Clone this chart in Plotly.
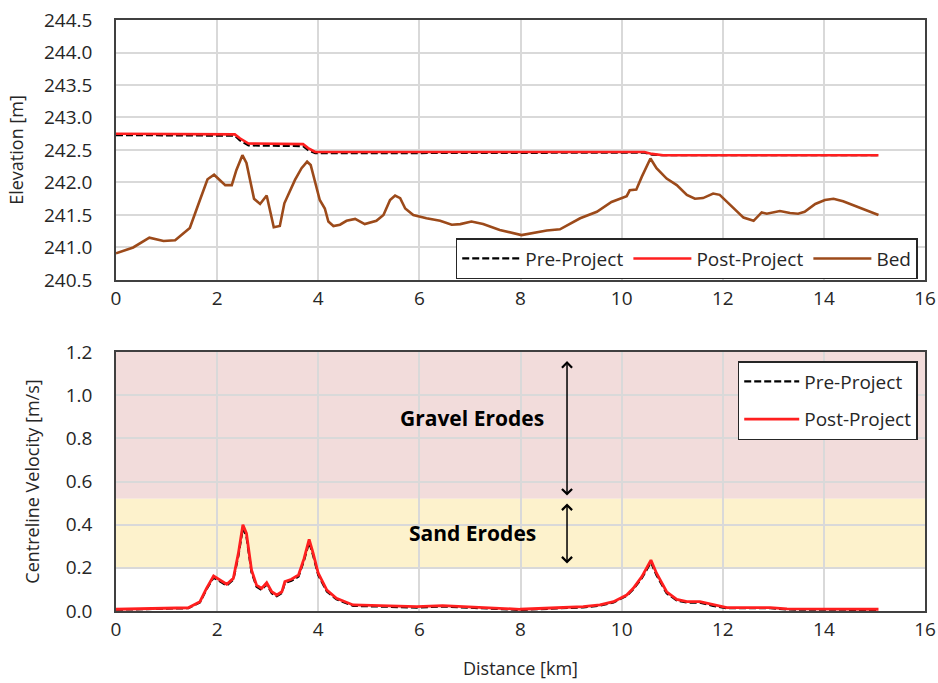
import plotly.graph_objects as go

# ---------------- data ----------------
bed_km = [0, 0.34, 0.66, 0.94, 1.17, 1.46, 1.66, 1.81, 1.94, 2.16,
          2.29, 2.38, 2.50, 2.58, 2.73, 2.85, 2.98, 3.12, 3.24, 3.33,
          3.54, 3.67, 3.78, 3.85, 4.03, 4.13, 4.20, 4.30, 4.43, 4.56,
          4.73, 4.92, 5.15, 5.29, 5.42, 5.52, 5.62, 5.72, 5.88, 6.14,
          6.41, 6.64, 6.81, 7.03, 7.26, 7.59, 8.02, 8.25, 8.52, 8.78,
          9.18, 9.51, 9.80, 10.10, 10.16, 10.29, 10.40, 10.57, 10.69, 10.89,
          11.09, 11.29, 11.45, 11.61, 11.81, 11.94, 12.21, 12.41, 12.61, 12.77,
          12.87, 13.13, 13.33, 13.49, 13.62, 13.83, 14.02, 14.19, 14.38, 14.65,
          14.85, 15.08]
bed_elev = [240.91, 241.00, 241.15, 241.10, 241.11, 241.30, 241.73, 242.05, 242.12, 241.96,
            241.96, 242.19, 242.42, 242.30, 241.75, 241.67, 241.80, 241.31, 241.33, 241.68,
            242.04, 242.22, 242.32, 242.27, 241.73, 241.60, 241.40, 241.33, 241.35, 241.41,
            241.44, 241.36, 241.41, 241.50, 241.73, 241.80, 241.76, 241.60, 241.50, 241.45,
            241.41, 241.35, 241.36, 241.40, 241.36, 241.27, 241.19, 241.22, 241.26, 241.28,
            241.45, 241.55, 241.70, 241.79, 241.88, 241.89, 242.09, 242.37, 242.22, 242.06,
            241.96, 241.81, 241.75, 241.76, 241.83, 241.81, 241.60, 241.46, 241.41, 241.54,
            241.52, 241.56, 241.53, 241.52, 241.55, 241.67, 241.73, 241.75, 241.71, 241.63,
            241.56, 241.50]

ws_km = [0, 2.35, 2.45, 2.62, 3.70, 3.80, 3.94, 10.45, 10.60, 10.82, 15.08]
ws_post = [242.75, 242.74, 242.68, 242.60, 242.59, 242.53, 242.47, 242.47, 242.44, 242.42, 242.42]
ws_pre = [242.73, 242.72, 242.65, 242.57, 242.56, 242.50, 242.45, 242.46, 242.43, 242.42, 242.42]

vel_km = [0, 0.74, 1.43, 1.66, 1.79, 1.93, 2.06, 2.19, 2.32, 2.42,
          2.51, 2.58, 2.68, 2.78, 2.88, 2.98, 3.08, 3.18, 3.28, 3.34,
          3.47, 3.61, 3.72, 3.82, 3.90, 4.00, 4.17, 4.36, 4.69, 5.29,
          5.95, 6.46, 6.92, 7.46, 7.99, 8.72, 9.24, 9.57, 9.84, 10.10,
          10.23, 10.40, 10.58, 10.69, 10.89, 11.09, 11.29, 11.55, 11.81, 12.08,
          12.61, 12.94, 13.27, 14.19, 15.08]
vel_post = [0.008, 0.012, 0.015, 0.043, 0.105, 0.162, 0.144, 0.124, 0.151, 0.267,
            0.400, 0.360, 0.190, 0.120, 0.105, 0.131, 0.089, 0.074, 0.089, 0.136,
            0.147, 0.167, 0.244, 0.332, 0.267, 0.175, 0.097, 0.059, 0.028, 0.023,
            0.020, 0.025, 0.020, 0.0125, 0.008, 0.015, 0.020, 0.028, 0.043, 0.074,
            0.105, 0.159, 0.236, 0.175, 0.089, 0.054, 0.043, 0.043, 0.028, 0.016,
            0.016, 0.016, 0.010, 0.008, 0.008]
vel_pre = [0.006, 0.010, 0.013, 0.040, 0.100, 0.155, 0.138, 0.118, 0.145, 0.255,
           0.385, 0.345, 0.180, 0.112, 0.098, 0.124, 0.082, 0.068, 0.083, 0.130,
           0.140, 0.160, 0.235, 0.320, 0.256, 0.166, 0.090, 0.054, 0.024, 0.019,
           0.016, 0.021, 0.016, 0.009, 0.005, 0.012, 0.017, 0.025, 0.040, 0.070,
           0.100, 0.152, 0.226, 0.166, 0.082, 0.049, 0.039, 0.039, 0.024, 0.013,
           0.013, 0.013, 0.007, 0.005, 0.005]

sand_band = [0.2, 0.52]
gravel_band = [0.52, 1.2]

FONT = "Open Sans"
TXT = "#262626"
RED = "#FF1F1F"
BROWN = "#9C4A1A"
DASH = "7px,3px"

fig = go.Figure()

# top panel
fig.add_trace(go.Scatter(x=ws_km, y=ws_pre, name="Pre-Project", mode="lines",
                         line=dict(color="black", width=2.2, dash=DASH),
                         xaxis="x", yaxis="y", legend="legend"))
fig.add_trace(go.Scatter(x=ws_km, y=ws_post, name="Post-Project", mode="lines",
                         line=dict(color=RED, width=2.6),
                         xaxis="x", yaxis="y", legend="legend"))
fig.add_trace(go.Scatter(x=bed_km, y=bed_elev, name="Bed", mode="lines",
                         line=dict(color=BROWN, width=2.6),
                         xaxis="x", yaxis="y", legend="legend"))

# bottom panel
fig.add_trace(go.Scatter(x=vel_km, y=vel_pre, name="Pre-Project", mode="lines",
                         line=dict(color="black", width=2.2, dash=DASH),
                         xaxis="x2", yaxis="y2", legend="legend2", legendgroup="a"))
fig.add_trace(go.Scatter(x=vel_km, y=vel_post, name="Post-Project", mode="lines",
                         line=dict(color=RED, width=2.8),
                         xaxis="x2", yaxis="y2", legend="legend2", legendgroup="b"))

# bands
fig.add_shape(type="rect", xref="x2", yref="y2", x0=0, x1=16,
              y0=gravel_band[0], y1=gravel_band[1],
              fillcolor="#F2DCDB", line_width=0, layer="below")
fig.add_shape(type="rect", xref="x2", yref="y2", x0=0, x1=16,
              y0=sand_band[0], y1=sand_band[1],
              fillcolor="#FDF2CC", line_width=0, layer="below")

# arrows
arrow_x = 8.92
for (ya, yb) in [(1.165, 0.535), (0.505, 0.22)]:
    fig.add_annotation(x=arrow_x, y=yb, ax=arrow_x, ay=ya, xref="x2", yref="y2",
                       axref="x2", ayref="y2", text="", showarrow=True,
                       arrowhead=4, startarrowhead=4, arrowside="end+start",
                       arrowsize=1.3, startarrowsize=1.3, arrowwidth=1.5,
                       arrowcolor="black")

fig.add_annotation(x=7.05, y=0.895, xref="x2", yref="y2", text="<b>Gravel Erodes</b>",
                   showarrow=False, font=dict(family=FONT, size=21, color="black"))
fig.add_annotation(x=7.05, y=0.36, xref="x2", yref="y2", text="<b>Sand Erodes</b>",
                   showarrow=False, font=dict(family=FONT, size=21, color="black"))

axis_common = dict(showgrid=True, gridcolor="#D9D9D9", gridwidth=1.5,
                   showline=True, mirror=True, linecolor="#404040", linewidth=1.5,
                   zeroline=False, ticks="", automargin=False,
                   tickfont=dict(family=FONT, size=19, color=TXT))
title_font = dict(family=FONT, size=18, color=TXT)

fig.update_layout(
    width=938, height=683,
    margin=dict(l=116, r=13, t=20, b=72),
    paper_bgcolor="white", plot_bgcolor="white",
    font=dict(family=FONT, size=18, color=TXT),
    xaxis=dict(domain=[0, 1], anchor="y", range=[0, 16], dtick=2, **axis_common),
    yaxis=dict(domain=[0.5601, 1.0], anchor="x", range=[240.5, 244.5], dtick=0.5,
               tickformat=".1f", ticklabelstandoff=18,
               title=dict(text="Elevation [m]", font=title_font, standoff=16),
               **axis_common),
    xaxis2=dict(domain=[0, 1], anchor="y2", range=[0, 16], dtick=2,
                title=dict(text="Distance [km]", font=title_font, standoff=22),
                **axis_common),
    yaxis2=dict(domain=[0.0, 0.4382], anchor="x2", range=[0, 1.2], dtick=0.2,
                tickformat=".1f", ticklabelstandoff=18,
                title=dict(text="Centreline Velocity [m/s]", font=title_font, standoff=21),
                **axis_common),
    legend=dict(orientation="h", x=0.991, xanchor="right", y=0.631, yanchor="top",
                bgcolor="white", bordercolor="#262626", borderwidth=1.5,
                font=dict(family=FONT, size=19, color=TXT), itemwidth=58),
    legend2=dict(orientation="v", x=0.991, xanchor="right", y=0.423, yanchor="top",
                 bgcolor="white", bordercolor="#262626", borderwidth=1.5,
                 font=dict(family=FONT, size=19, color=TXT), itemwidth=55,
                 tracegroupgap=10),
    showlegend=True,
)

fig.write_html("out.html")
